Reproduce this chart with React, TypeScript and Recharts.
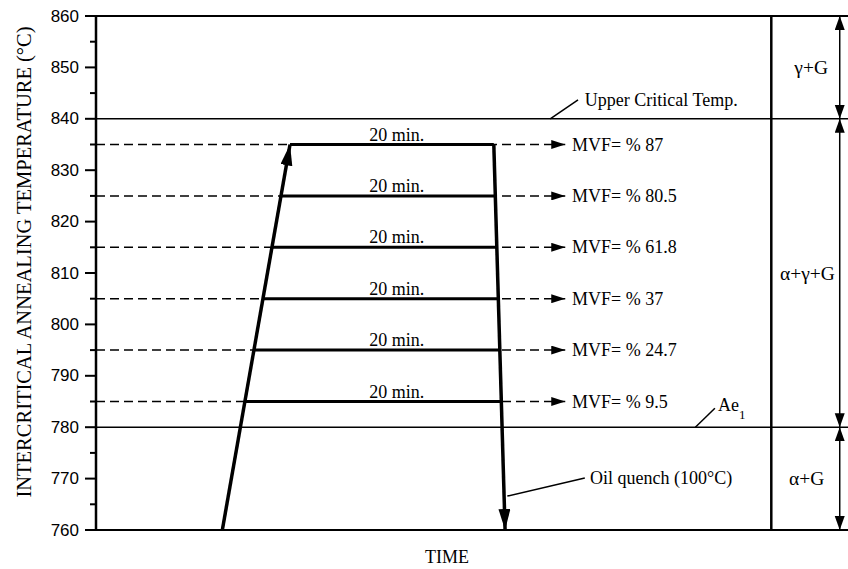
import React from 'react';
import { ComposedChart, Line, XAxis, YAxis, ReferenceLine, ReferenceDot } from 'recharts';

// Temperatures (°C) of the holding levels
const levels = [785, 795, 805, 815, 825, 835];
// Martensite volume fraction at each level
const mvf = ['9.5', '24.7', '37', '61.8', '80.5', '87'];
// Time positions (arbitrary units 0-100) where each hold starts / ends
const holdStart = [19.8, 21.0, 22.2, 23.4, 24.6, 25.8];
const holdEnd = [53.9, 53.7, 53.5, 53.3, 53.1, 52.9];
// Heating and quench paths
const heatingPath = [{ x: 16.8, y: 760 }, { x: 25.8, y: 835 }];
const quenchPath = [{ x: 52.9, y: 835 }, { x: 54.4, y: 760 }];
// Boundaries
const upperCritical = 840;
const ae1 = 780;
const yTicks = [760, 765, 770, 775, 780, 785, 790, 795, 800, 805, 810, 815, 820, 825, 830, 835, 840, 845, 850, 855, 860];
const dashEndX = 62.4;
const mvfTextX = 63.3;
const holdLabelX = 40;
const phaseBoundaryX = 89.8;
const phaseArrowX = 98.9;
const phases = [
  { label: 'γ+G', lo: 840, hi: 860, mid: 850, lx: 95.1 },
  { label: 'α+γ+G', lo: 780, hi: 840, mid: 810, lx: 94.6 },
  { label: 'α+G', lo: 760, hi: 780, mid: 770, lx: 94.5 },
];
const upperLeader = [{ x: 60.4, y: 840 }, { x: 64.1, y: 843.7 }];
const ae1Leader = [{ x: 79.7, y: 780 }, { x: 82.3, y: 783.7 }];
const quenchLeader = [{ x: 54.7, y: 766.6 }, { x: 65.0, y: 770.1 }];

const SERIF = '"Liberation Serif", "Times New Roman", serif';
const SANS = '"Liberation Sans", Arial, sans-serif';

const YTick = (props: any) => {
  const { x, y, payload } = props;
  const major = payload.value % 10 === 0;
  return (
    <g>
      <line x1={x - (major ? 11 : 6)} x2={x} y1={y} y2={y} stroke="#000" strokeWidth={2} />
      {major && (
        <text x={x - 17} y={y} textAnchor="end" dominantBaseline="central" fontFamily={SANS} fontSize={17} fill="#000">
          {payload.value}
        </text>
      )}
    </g>
  );
};

const textAt = (content: React.ReactNode, dx: number, dy: number, anchor: string, size = 18) => (props: any) => {
  const vb = props.viewBox || {};
  return (
    <text x={vb.x + dx} y={vb.y + dy} textAnchor={anchor} dominantBaseline="central" fontFamily={SERIF} fontSize={size} fill="#000">
      {content}
    </text>
  );
};

export default function App() {
  return (
    <div style={{ position: 'absolute', left: 0, top: 0, width: 848, height: 569, background: '#fff' }}>
      <ComposedChart width={848} height={569} margin={{ top: 16, right: 0, left: 0, bottom: 0 }}>
        <defs>
          <marker id="arrSmall" markerUnits="userSpaceOnUse" markerWidth="15" markerHeight="9" refX="14" refY="4.5" orient="auto">
            <path d="M0,0 L14,4.5 L0,9 z" fill="#000" />
          </marker>
          <marker id="arrPhase" markerUnits="userSpaceOnUse" markerWidth="15" markerHeight="11" refX="14" refY="5" orient="auto-start-reverse">
            <path d="M0,0 L14,5 L0,10 z" fill="#000" />
          </marker>
          <marker id="arrBig" markerUnits="userSpaceOnUse" markerWidth="22" markerHeight="13" refX="21" refY="6" orient="auto">
            <path d="M0,0 L21,6 L0,12 z" fill="#000" />
          </marker>
        </defs>
        <XAxis
          type="number"
          dataKey="x"
          domain={[0, 100]}
          height={39}
          axisLine={false}
          tick={false}
          tickLine={false}
          allowDataOverflow
          label={{
            content: () => (
              <text x={447} y={557} textAnchor="middle" dominantBaseline="central" fontFamily={SERIF} fontSize={18} fill="#000">
                TIME
              </text>
            ),
          }}
        />
        <YAxis
          type="number"
          domain={[760, 860]}
          ticks={yTicks}
          interval={0}
          width={96}
          allowDataOverflow
          axisLine={{ stroke: '#000', strokeWidth: 2.5 }}
          tickLine={false}
          tickSize={0}
          tickMargin={0}
          tick={<YTick />}
          label={{
            content: () => (
              <text x={24} y={262} transform="rotate(-90 24 262)" textAnchor="middle" dominantBaseline="central" fontFamily={SERIF} fontSize={20.5} fill="#000">
                INTERCRITICAL ANNEALING TEMPERATURE (°C)
              </text>
            ),
          }}
        />
        <ReferenceLine y={860} stroke="#000" strokeWidth={2} />
        <ReferenceLine y={760} stroke="#000" strokeWidth={2} />
        <ReferenceLine y={upperCritical} stroke="#000" strokeWidth={1.5} />
        <ReferenceLine y={ae1} stroke="#000" strokeWidth={1.5} />
        <ReferenceLine x={phaseBoundaryX} stroke="#000" strokeWidth={2.5} />

        {levels.map((t) => (
          <Line
            key={'d' + t}
            data={[{ x: 0, y: t }, { x: dashEndX, y: t }]}
            dataKey="y"
            stroke="#000"
            strokeWidth={1.5}
            strokeDasharray="9 5"
            dot={false}
            activeDot={false}
            isAnimationActive={false}
            markerEnd="url(#arrSmall)"
          />
        ))}
        {levels.map((t, i) => (
          <Line
            key={'h' + t}
            data={[{ x: holdStart[i], y: t }, { x: holdEnd[i], y: t }]}
            dataKey="y"
            stroke="#000"
            strokeWidth={3}
            dot={false}
            activeDot={false}
            isAnimationActive={false}
          />
        ))}
        <Line data={heatingPath} dataKey="y" stroke="#000" strokeWidth={3.5} dot={false} activeDot={false} isAnimationActive={false} markerEnd="url(#arrBig)" />
        <Line data={quenchPath} dataKey="y" stroke="#000" strokeWidth={3.5} dot={false} activeDot={false} isAnimationActive={false} markerEnd="url(#arrBig)" />

        {phases.map((p) => (
          <Line
            key={'p' + p.label}
            data={[{ x: phaseArrowX, y: p.lo }, { x: phaseArrowX, y: p.hi }]}
            dataKey="y"
            stroke="#000"
            strokeWidth={1.5}
            dot={false}
            activeDot={false}
            isAnimationActive={false}
            markerStart="url(#arrPhase)"
            markerEnd="url(#arrPhase)"
          />
        ))}

        <Line data={upperLeader} dataKey="y" stroke="#000" strokeWidth={1.5} dot={false} activeDot={false} isAnimationActive={false} />
        <Line data={ae1Leader} dataKey="y" stroke="#000" strokeWidth={1.5} dot={false} activeDot={false} isAnimationActive={false} />
        <Line data={quenchLeader} dataKey="y" stroke="#000" strokeWidth={1.5} dot={false} activeDot={false} isAnimationActive={false} />

        {levels.map((t) => (
          <ReferenceDot key={'l' + t} x={holdLabelX} y={t} r={0} fill="none" stroke="none" label={{ content: textAt('20 min.', 0, -10, 'middle') }} />
        ))}
        {levels.map((t, i) => (
          <ReferenceDot key={'m' + t} x={mvfTextX} y={t} r={0} fill="none" stroke="none" label={{ content: textAt('MVF= % ' + mvf[i], 0, 0, 'start') }} />
        ))}
        {phases.map((p) => (
          <ReferenceDot key={'pl' + p.label} x={p.lx} y={p.mid} r={0} fill="none" stroke="none" label={{ content: textAt(p.label, 0, 0, 'middle', 19.5) }} />
        ))}
        <ReferenceDot x={65.0} y={843.6} r={0} fill="none" stroke="none" label={{ content: textAt('Upper Critical Temp.', 0, 0, 'start') }} />
        <ReferenceDot x={65.7} y={770.1} r={0} fill="none" stroke="none" label={{ content: textAt('Oil quench (100°C)', 0, 0, 'start') }} />
        <ReferenceDot
          x={82.7}
          y={784.3}
          r={0}
          fill="none"
          stroke="none"
          label={{
            content: textAt(
              <>
                Ae<tspan fontSize={13} dy={9}>1</tspan>
              </>,
              0,
              0,
              'start'
            ),
          }}
        />
      </ComposedChart>
    </div>
  );
}
